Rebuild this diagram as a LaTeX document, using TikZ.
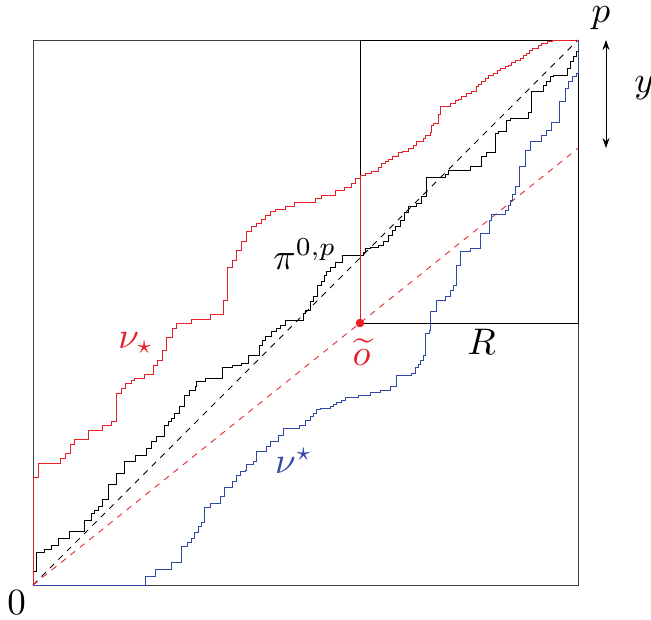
\documentclass[tikz,border=0pt]{standalone}
\usetikzlibrary{arrows.meta,calc}
\definecolor{pred}{RGB}{232,30,38}
\definecolor{pblue}{RGB}{45,72,165}
\tikzset{
  lbl/.style={inner sep=0pt,scale=3.7},
  frame/.style={draw=black!75,line width=0.9pt},
  redpath/.style={draw=pred,line width=1pt},
  bluepath/.style={draw=pblue,line width=1pt},
  blackpath/.style={draw=black,line width=1pt},
  dashline/.style={line width=0.85pt,dash pattern=on 6pt off 6pt},
}
\begin{document}
\begin{tikzpicture}[x=1pt,y=-1pt]
\useasboundingbox (0,0) rectangle (651,619);
\coordinate (O) at (33,585);
\coordinate (P) at (578,40);
\coordinate (ot) at (360,323);
\coordinate (cross) at (360,175.7);
\coordinate (atop) at (606,40);
\coordinate (abot) at (606,148);
% frame and rectangle R
\draw[frame] (O) rectangle (P);
\draw[line width=0.9pt] (ot) rectangle (P);
% dashed lines
\draw[dashline,black] (O) -- (P);
\draw[dashline,pred] (O) -- ($(O)!1.6667!(ot)$);
% black path pi
\draw[blackpath] (O) -| (33,571) -| (36.3,552.7) -| (44,549) -| (51.3,545) -| (58.7,538.3) -| (69.7,531) -| (84,520) -| (91.3,513.3) -| (94.7,510) -| (98,506.7) -| (102,499) -| (108.7,484.3) -| (116.3,473.3) -| (124.7,461.7) -| (135.3,455) -| (146.3,448.3) -| (151.3,441.7) -| (156.3,436.7) -| (164.7,425) -| (168,421.7) -| (171.3,418.3) -| (174.7,413.3) -| (179.7,406.7) -| (184.7,395) -| (189.7,390) -| (195,386.7) -| (196.7,381.7) -| (205,378.3) -| (222.7,367.7) -| (232,365) -| (241.7,363.3) -| (248.3,355) -| (259,345) -| (262,340) -| (265.7,336.7) -| (271.7,331.7) -| (276.7,328.3) -| (280,325) -| (285,320) -| (303,313) -| (305,310) -| (310,301.7) -| (313,296) -| (317.7,285) -| (321.7,281.7) -| (324.3,275.7) -| (326.7,271.7) -| (330,267) -| (335,262) -| (342.3,255) -| (363,252) -| (365,248.3) -| (370,247) -| (378.3,245) -| (383,241) -| (388.3,235) -| (392,230) -| (395,226.7) -| (400,220) -| (404,212) -| (408.3,206.7) -| (416.7,203.3) -| (421.7,196.7) -| (426.7,177.7) -| (443.3,177.7) -| (445,174) -| (448.3,170) -| (470,166.7) -| (481.7,156.7) -| (486.7,152.3) -| (495,133.3) -| (498.3,131) -| (506.7,120) -| (510,118.3) -| (528.3,112.3) -| (531.7,91) -| (543.3,85) -| (546.7,81.7) -| (550,76.7) -| (553.3,75) -| (567.3,68.3) -| (570,61) -| (573,56) -| (576.7,51.7) -| (P);
% red path nu_star
\draw[redpath] (O) -| (33,477) -| (38,463) -| (60.7,458) -| (65,453) -| (70,444) -| (74.7,439) -| (88.7,430) -| (102,425.7) -| (111,421) -| (116,393) -| (121,388) -| (125.7,383) -| (131,380) -| (134,378) -| (144,374) -| (153,365.7) -| (157.7,360) -| (162,350) -| (166.7,337.7) -| (172,328) -| (176.7,323) -| (191,319) -| (210,314) -| (223,300) -| (227.7,267.7) -| (232,260) -| (236.7,250) -| (241,241.7) -| (246.7,231) -| (251.7,226.7) -| (256.7,223.3) -| (261,219) -| (265.7,215) -| (270,211.7) -| (275,209.3) -| (285,206.7) -| (294.3,202.3) -| (315,198.3) -| (321.7,195.7) -| (335,190) -| (344.3,187.7) -| (351.7,183.3) -| (355,178.3) -| (360,175.7) -| (365,173.3) -| (371.7,171) -| (378.3,167.7) -| (381,163.3) -| (385,161.7) -| (388,159) -| (392,156.7) -| (398.3,152.3) -| (402.7,151) -| (408.3,148.3) -| (413.3,145) -| (416,141.7) -| (423.3,138.3) -| (425,135.7) -| (430,132.3) -| (431.7,125) -| (433.3,123.3) -| (438.3,114.3) -| (440,106.7) -| (450,103.3) -| (455,100) -| (458.3,99) -| (461.7,96) -| (466,93.3) -| (471.7,91) -| (476.7,86.7) -| (478,84) -| (481.7,81.7) -| (485,78.3) -| (488.3,75) -| (493,73) -| (497,70) -| (500,68) -| (505,66.7) -| (508,65) -| (511.7,62.7) -| (515,60) -| (520,58) -| (523,55) -| (526.7,53.3) -| (529,50) -| (532,48.3) -| (538,45) -| (541,43) -| (547,41.5) -| (552,40) -- (P);
% red vertical to o tilde
\draw[redpath] (cross) -- (ot);
% blue path nu^star
\draw[bluepath] (O) -| (145.3,576) -| (155.3,569) -| (171.3,562.3) -| (181.3,546.7) -| (187.3,542.3) -| (191.3,538.3) -| (194.7,532.3) -| (198,526.7) -| (201.3,522.3) -| (204,507.7) -| (210.7,503.3) -| (220.7,496.7) -| (224,487.7) -| (232.7,481) -| (236.7,475) -| (240,471.7) -| (245,470) -| (246.7,464.3) -| (253.3,461.7) -| (256.7,451.7) -| (266.7,446.7) -| (270,441.7) -| (278.3,435) -| (283.3,428.3) -| (299.3,425) -| (305,420) -| (310,416.7) -| (313.3,413.3) -| (316,409) -| (320,408.3) -| (330,406.7) -| (333.3,404.3) -| (336.7,402.3) -| (341.7,400) -| (345,397.7) -| (358.3,395) -| (370,392.3) -| (380,390) -| (390,386.7) -| (396,375.7) -| (411.7,373.3) -| (415,367.7) -| (418,364) -| (420,360) -| (423,355) -| (425,333.3) -| (429.3,330) -| (430,311.7) -| (436.7,300) -| (445,296.7) -| (450,290) -| (453.3,285) -| (456.7,265) -| (460.7,251.7) -| (470,248.3) -| (480,233.3) -| (489,220) -| (491.7,214.3) -| (505,210) -| (508.3,205) -| (510,200) -| (512.7,194) -| (515,186.7) -| (519.3,166.7) -| (525,150) -| (530,141.7) -| (541.7,135) -| (546.7,130) -| (551.7,122.3) -| (559.3,101.7) -| (565,88.3) -| (568.3,81.7) -| (572,76) -| (576,73.3) -| (P);
% o tilde point
\fill[pred] (ot) circle (4.3pt);
% y arrow
\draw[line width=0.9pt,{Stealth[length=10pt,width=7pt]}-{Stealth[length=10pt,width=7pt]}] (atop) -- (abot);
% labels
\node[lbl] (lp) at (601,18.5) {$p$};
\node[lbl] (ly) at (644,88) {$y$};
\node[lbl] (l0) at (16.5,603) {$0$};
\node[lbl,text=pred] (lnus) at (136,343) {$\nu_\star$};
\node[lbl,text=pblue] (lnusup) at (294,461) {$\nu^\star$};
\node[lbl] (lpi) at (305,254) {$\pi^{0,p}$};
\node[lbl] (lR) at (481.5,342) {$R$};
\node[lbl,text=pred] (lot) at (361.5,352) {$\widetilde{o}$};
\end{tikzpicture}
\end{document}
